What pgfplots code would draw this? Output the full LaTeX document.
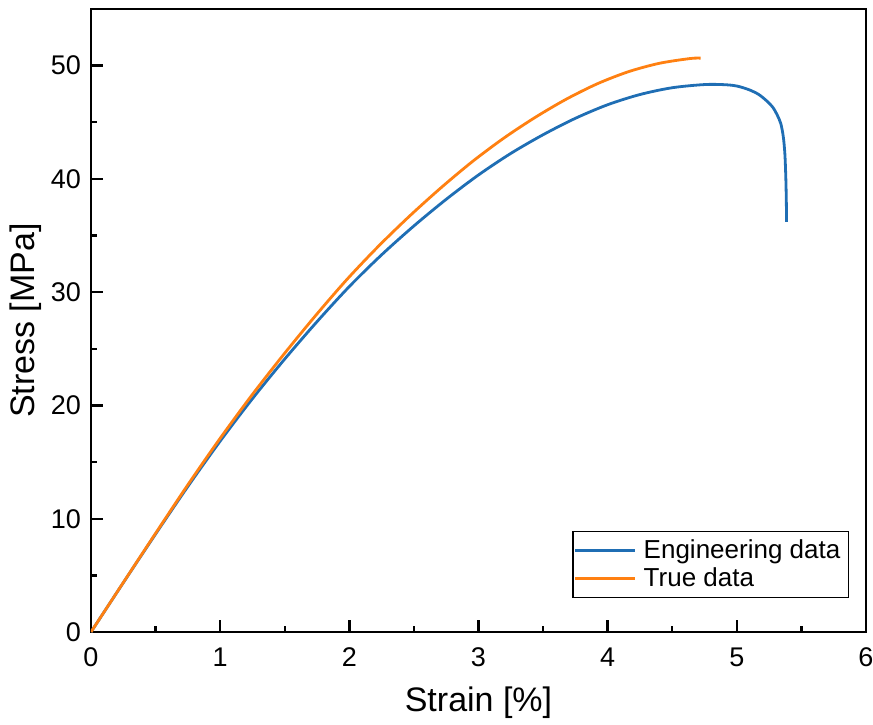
\documentclass[border=0pt]{standalone}
\usepackage{fontspec}
\setmainfont{Liberation Sans}
\usepackage{pgfplots}
\pgfplotsset{compat=1.18}
\definecolor{engblue}{HTML}{1F6EB4}
\definecolor{trueorange}{HTML}{FF8011}
\begin{document}
\begin{tikzpicture}
\begin{axis}[
  name=ax,
  scale only axis, width=387.5pt, height=311.5pt,
  xmin=0, xmax=6, ymin=0, ymax=55,
  xtick={0,1,2,3,4,5,6}, ytick={0,10,20,30,40,50},
  minor x tick num=1, minor y tick num=1,
  tick pos=left, tick align=inside,
  major tick length=6pt, minor tick length=3pt,
  every tick/.style={black, line width=1.2pt},
  axis line style={line width=1.4pt},
  tick label style={font=\fontsize{13.5}{15}\selectfont},
  xticklabel style={yshift=-4.5pt},
  yticklabel style={xshift=-1.5pt},
  /pgf/number format/assume math mode=true,
  xlabel={Strain [\%]}, ylabel={Stress [MPa]},
  label style={font=\fontsize{17}{19}\selectfont},
  xlabel style={yshift=-3pt}, ylabel style={yshift=-2pt},
  legend cell align=left,
  legend style={at={(0.978,0.0546)}, anchor=south east, draw=black, line width=0.6pt,
    font=\fontsize{13}{15}\selectfont, row sep=-1pt, inner xsep=0.5pt, inner ysep=2pt,
    /tikz/every odd column/.style={}, nodes={inner xsep=3.5pt}},
  legend image post style={line width=1.4pt},
  legend image code/.code={\draw[#1] (0cm,0cm) -- (30pt,0cm);},
]
\addplot[engblue, line width=1.4pt, smooth] coordinates {
(0,0) (0.25,4.35) (0.5,8.65) (0.75,12.85) (1.0,16.85) (1.25,20.6) (1.5,24.1)
(1.75,27.4) (2.0,30.5) (2.25,33.3) (2.5,35.85) (2.75,38.2) (3.0,40.35)
(3.25,42.25) (3.5,43.9) (3.75,45.35) (4.0,46.55) (4.25,47.45) (4.5,48.05)
(4.75,48.33) (4.9,48.32) (5.0,48.2) (5.1,47.85) (5.17,47.45) (5.23,46.9)
(5.28,46.3) (5.31,45.7) (5.34,44.9) (5.36,43.7) (5.372,42.2) (5.379,40.2)
(5.383,38.2) (5.385,36.2)
};
\addlegendentry{Engineering data}
\addplot[trueorange, line width=1.4pt, smooth] coordinates {
(0,0) (0.2497,4.36) (0.4988,8.69) (0.7472,12.95) (0.995,17.02) (1.2423,20.86)
(1.4889,24.46) (1.7349,27.88) (1.9803,31.11) (2.225,34.05) (2.4693,36.75)
(2.7129,39.25) (2.9559,41.56) (3.1983,43.62) (3.4401,45.44) (3.6814,47.05)
(3.9221,48.41) (4.1622,49.47) (4.4017,50.21) (4.6406,50.63) (4.72,50.66)
};
\addlegendentry{True data}
\end{axis}
\pgfresetboundingbox
\path[use as bounding box] ([xshift=-45.5pt,yshift=-46pt]ax.south west)
  rectangle ([xshift=3.5pt,yshift=4.5pt]ax.north east);
\end{tikzpicture}
\end{document}
